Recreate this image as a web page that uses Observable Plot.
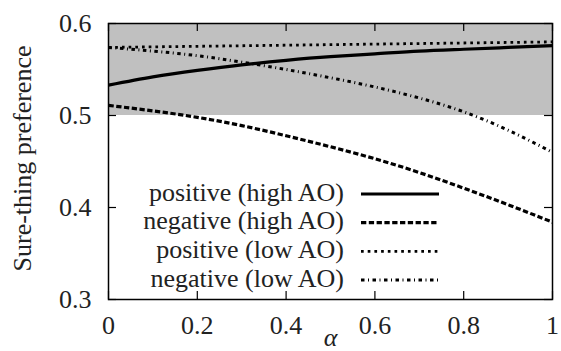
<!DOCTYPE html>
<html>
<head>
<meta charset="utf-8">
<script src="https://cdn.jsdelivr.net/npm/d3@7"></script>
<script src="https://cdn.jsdelivr.net/npm/@observablehq/plot@0.6"></script>
<style>
  html, body { margin: 0; padding: 0; background: #fff; }
  #chart { position: relative; width: 561px; height: 351px; }
</style>
</head>
<body>
<div id="chart"></div>
<script>
// ---- data ----
const alpha = [0, 0.1, 0.2, 0.3, 0.4, 0.5, 0.6, 0.7, 0.8, 0.9, 1.0];
const posHigh = [0.533, 0.542, 0.549, 0.555, 0.560, 0.564, 0.567, 0.570, 0.572, 0.574, 0.576];
const negHigh = [0.511, 0.505, 0.498, 0.489, 0.478, 0.466, 0.453, 0.438, 0.421, 0.403, 0.384];
const posLow  = [0.574, 0.5746, 0.5752, 0.5758, 0.5764, 0.577, 0.5776, 0.5782, 0.5788, 0.5794, 0.580];
const negLow  = [0.574, 0.570, 0.565, 0.558, 0.550, 0.541, 0.531, 0.519, 0.504, 0.484, 0.460];
const seriesNames = ["positive (high AO)", "negative (high AO)", "positive (low AO)", "negative (low AO)"];
const xTicks = [0, 0.2, 0.4, 0.6, 0.8, 1];
const xTickLabels = ["0", "0.2", "0.4", "0.6", "0.8", "1"];
const yTicks = [0.3, 0.4, 0.5, 0.6];
const yTickLabels = ["0.3", "0.4", "0.5", "0.6"];
const xDomain = [0, 1];
const yDomain = [0.3, 0.6];
const band = [{from: 0.5, to: 0.6}];
const xLabel = "α";
const yLabel = "Sure-thing preference";

// ---- styles ----
const styles = [
  {dash: null, width: 3.2},
  {dash: "5.3,2.5", width: 3.2},
  {dash: "2.7,4", width: 2.8},
  {dash: "3.5,3.5,1,3.5", width: 3}
];
const seriesValues = [posHigh, negHigh, posLow, negLow];
const rows = seriesNames.flatMap((name, i) =>
  alpha.map((a, j) => ({series: name, idx: i, alpha: a, value: seriesValues[i][j]})));

const W = 561, H = 351;
const mL = 108, mR = 9, mT = 23, mB = 52;
const innerW = W - mL - mR, innerH = H - mT - mB;
const font = "'Liberation Serif', 'Times New Roman', serif";
const fs = 26;
const ink = "#222";

const lineMarks = seriesNames.map((name, i) =>
  Plot.line(rows.filter(d => d.idx === i), {
    x: "alpha", y: "value", curve: "natural",
    stroke: "black", strokeWidth: styles[i].width,
    strokeDasharray: styles[i].dash, strokeLinecap: "butt"
  }));

const plot = Plot.plot({
  width: W, height: H,
  marginLeft: mL, marginRight: mR, marginTop: mT, marginBottom: mB,
  style: {fontFamily: font, fontSize: fs + "px", color: ink, background: "white"},
  x: {domain: xDomain},
  y: {domain: yDomain},
  marks: [
    Plot.rect(band, {x1: () => xDomain[0], x2: () => xDomain[1], y1: "from", y2: "to", fill: "#c0c0c0"}),
    ...lineMarks,
    // inward ticks on all four sides
    Plot.ruleX(xTicks, {x: d => d, insetTop: innerH - 8, stroke: "black", strokeWidth: 1.2}),
    Plot.ruleX(xTicks, {x: d => d, insetBottom: innerH - 8, stroke: "black", strokeWidth: 1.2}),
    Plot.ruleY(yTicks, {y: d => d, insetRight: innerW - 8, stroke: "black", strokeWidth: 1.2}),
    Plot.ruleY(yTicks, {y: d => d, insetLeft: innerW - 8, stroke: "black", strokeWidth: 1.2}),
    Plot.frame({stroke: "black", strokeWidth: 1.5}),
    Plot.axisX(xTicks, {tickSize: 0, tickPadding: 16, tickFormat: (d, i) => xTickLabels[i], fontSize: fs, fill: ink, label: null}),
    Plot.axisY(yTicks, {tickSize: 0, tickPadding: 17, tickFormat: (d, i) => yTickLabels[i], fontSize: fs, fill: ink, label: null}),
    Plot.text([xLabel], {frameAnchor: "bottom", textAnchor: "middle", dy: 38, lineAnchor: "middle", fontStyle: "italic", fontSize: fs, fill: ink}),
    Plot.text([yLabel], {frameAnchor: "left", textAnchor: "middle", dx: -86, dy: -3, rotate: -90, lineAnchor: "middle", fontSize: fs, fill: ink})
  ]
});

// ---- legend inside plot (layout only) ----
const svg = d3.select(plot);
const lg = svg.append("g").attr("font-size", fs).style("font-family", font);
const legTextX = 344, legLineX1 = 361, legLineX2 = 439, legY0 = 194, legDY = 28.7;
seriesNames.forEach((name, i) => {
  const y = legY0 + i * legDY;
  lg.append("text").attr("x", legTextX).attr("y", y + 6.5)
    .attr("text-anchor", "end").attr("fill", ink).text(name);
  lg.append("line").attr("x1", legLineX1).attr("x2", legLineX2)
    .attr("y1", y).attr("y2", y)
    .attr("stroke", "black").attr("stroke-width", styles[i].width)
    .attr("stroke-dasharray", styles[i].dash);
});

document.getElementById("chart").appendChild(plot);
</script>
</body>
</html>
